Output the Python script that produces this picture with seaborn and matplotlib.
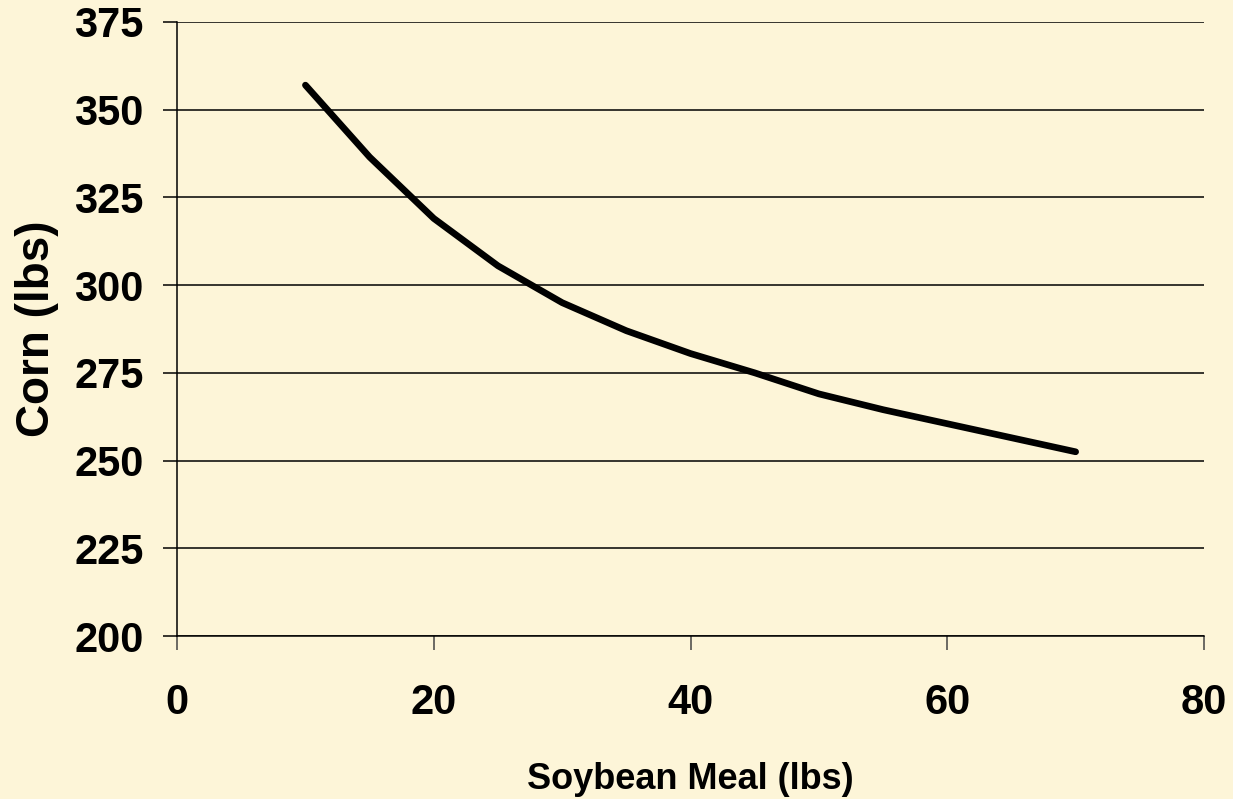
import pandas as pd
import seaborn as sns
import matplotlib.pyplot as plt

# =============================================================================
# Data
# =============================================================================

soybean_meal = [10, 15, 20, 25, 30, 35, 40, 45, 50, 55, 60, 65, 70]
corn = [357, 336.5, 319, 305.5, 295, 287, 280.5, 275, 269, 264.5, 260.5, 256.5, 252.5]

df = pd.DataFrame({'soybean': soybean_meal, 'corn': corn})

# =============================================================================
# Plot
# =============================================================================

bg = '#FDF5D8'

sns.set_theme(style="white")
plt.rcParams['font.family'] = ['Liberation Sans', 'DejaVu Sans']
plt.rcParams['text.color'] = 'black'
plt.rcParams['axes.labelcolor'] = 'black'
plt.rcParams['xtick.color'] = 'black'
plt.rcParams['ytick.color'] = 'black'

fig = plt.figure(figsize=(12.33, 7.99), dpi=100, facecolor=bg)
ax = fig.add_axes([0.1436, 0.204, 0.8329, 0.7685])
ax.set_facecolor(bg)

sns.lineplot(data=df, x='soybean', y='corn', color='black', linewidth=4.8, ax=ax)

ax.set_xlim(0, 80)
ax.set_ylim(200, 375)
ax.set_xticks([0, 20, 40, 60, 80])
ax.set_yticks([200, 225, 250, 275, 300, 325, 350, 375])

ax.yaxis.grid(True, color='black', linewidth=1.1)
ax.set_axisbelow(True)

for s in ['top', 'right']:
    ax.spines[s].set_visible(False)
for s in ['left', 'bottom']:
    ax.spines[s].set_color('black')
    ax.spines[s].set_linewidth(1.1)

ax.tick_params(axis='x', bottom=True, direction='out', length=10, width=1.1,
               color='#444444', pad=24, labelsize=30)
ax.tick_params(axis='y', left=True, direction='out', length=10, width=1.1,
               color='black', pad=14, labelsize=30)
for lbl in ax.get_xticklabels() + ax.get_yticklabels():
    lbl.set_fontweight('bold')

ax.set_xlabel('Soybean Meal (lbs)', fontsize=26, fontweight='bold', labelpad=28)
ax.set_ylabel('Corn (lbs)', fontsize=33, fontweight='bold', labelpad=11)

fig.savefig('out.png', dpi=100, facecolor=bg)
